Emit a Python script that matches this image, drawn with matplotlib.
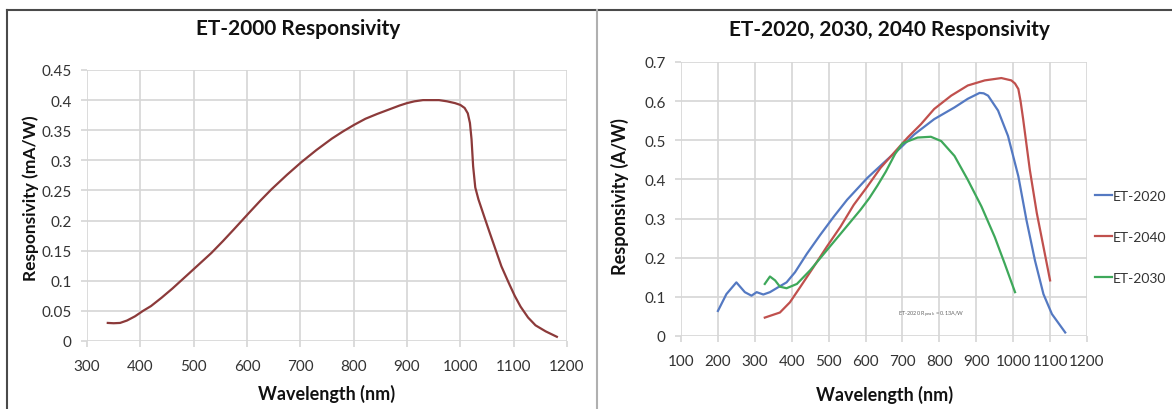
import matplotlib
matplotlib.use("Agg")
import matplotlib.pyplot as plt
from matplotlib.lines import Line2D

plt.rcParams['font.family'] = ['Lato', 'DejaVu Sans']

# ---------------- data ----------------
et2000_wl = [339, 350, 362, 375, 390, 405, 420, 440, 460, 491, 512, 533, 555, 575, 604,
             625, 646, 675, 702, 730, 759, 780, 801, 822, 844, 865, 886, 900, 914, 930,
             945, 960, 975, 990, 1000, 1008, 1014, 1018, 1021, 1024, 1028, 1034, 1045,
             1055, 1066, 1077, 1091, 1102, 1113, 1127, 1141, 1160, 1181]
et2000_resp = [0.030, 0.0295, 0.030, 0.034, 0.041, 0.050, 0.058, 0.072, 0.087, 0.112,
               0.129, 0.146, 0.166, 0.185, 0.213, 0.233, 0.252, 0.276, 0.297, 0.317,
               0.336, 0.348, 0.359, 0.369, 0.377, 0.384, 0.391, 0.395, 0.398, 0.400,
               0.400, 0.400, 0.398, 0.395, 0.392, 0.387, 0.378, 0.362, 0.335, 0.290,
               0.255, 0.235, 0.206, 0.180, 0.152, 0.124, 0.096, 0.075, 0.057, 0.039,
               0.026, 0.016, 0.007]

et2020_wl = [200, 223, 250, 273, 291, 305, 323, 341, 364, 386, 409, 441, 477, 514, 550,
             605, 659, 695, 732, 786, 841, 877, 909, 920, 932, 959, 986, 1014, 1036,
             1059, 1082, 1105, 1141]
et2020_resp = [0.064, 0.107, 0.137, 0.112, 0.103, 0.112, 0.106, 0.112, 0.125, 0.137,
               0.163, 0.210, 0.258, 0.305, 0.348, 0.404, 0.451, 0.481, 0.515, 0.554,
               0.584, 0.606, 0.621, 0.620, 0.614, 0.576, 0.511, 0.408, 0.296, 0.193,
               0.107, 0.056, 0.009]

et2040_wl = [327, 368, 395, 423, 459, 495, 532, 568, 605, 641, 677, 714, 750, 786, 832,
             877, 923, 968, 995, 1005, 1014, 1020, 1027, 1045, 1064, 1082, 1100]
et2040_resp = [0.047, 0.060, 0.086, 0.125, 0.176, 0.228, 0.279, 0.335, 0.382, 0.430,
               0.468, 0.507, 0.541, 0.580, 0.614, 0.640, 0.653, 0.659, 0.653, 0.645,
               0.631, 0.600, 0.554, 0.425, 0.314, 0.228, 0.142]

et2030_wl = [327, 341, 355, 368, 386, 414, 450, 495, 541, 586, 610, 632, 655, 680, 700,
             741, 777, 805, 841, 877, 914, 950, 977, 1005]
et2030_resp = [0.133, 0.152, 0.142, 0.126, 0.122, 0.133, 0.168, 0.219, 0.271, 0.322,
               0.352, 0.384, 0.420, 0.465, 0.492, 0.507, 0.509, 0.498, 0.460, 0.399,
               0.331, 0.253, 0.185, 0.112]

left_xticks = [300, 400, 500, 600, 700, 800, 900, 1000, 1100, 1200]
left_yticks = [0, 0.05, 0.1, 0.15, 0.2, 0.25, 0.3, 0.35, 0.4, 0.45]
left_ylabels = ['0', '0.05', '0.1', '0.15', '0.2', '0.25', '0.3', '0.35', '0.4', '0.45']
right_xticks = [100, 200, 300, 400, 500, 600, 700, 800, 900, 1000, 1100, 1200]
right_yticks = [0, 0.1, 0.2, 0.3, 0.4, 0.5, 0.6, 0.7]
right_ylabels = ['0', '0.1', '0.2', '0.3', '0.4', '0.5', '0.6', '0.7']

# ---------------- figure ----------------
W, H = 1172, 410
fig = plt.figure(figsize=(W / 100, H / 100), dpi=100)
fig.patch.set_facecolor('white')

def px_axes(x0, x1, ytop, ybot):
    return fig.add_axes([x0 / W, 1 - ybot / H, (x1 - x0) / W, (ybot - ytop) / H])

grid_c = '#d6d6d6'
lab_c = '#333333'
title_c = '#111111'

def style(ax):
    for s in ax.spines.values():
        s.set_visible(False)
    ax.grid(True, color=grid_c, linewidth=1.2)
    ax.set_axisbelow(True)
    ax.tick_params(axis='both', color=grid_c, length=4, width=1.2,
                   labelcolor=lab_c, labelsize=11)
    ax.tick_params(axis='x', pad=9)
    ax.tick_params(axis='y', pad=7)

# Left chart
ax1 = px_axes(87, 567, 71, 342)
style(ax1)
ax1.plot(et2000_wl, et2000_resp, color='#8c3a3a', linewidth=1.6)
ax1.set_xlim(300, 1200)
ax1.set_ylim(0, 0.45)
ax1.set_xticks(left_xticks)
ax1.set_yticks(left_yticks)
ax1.set_yticklabels(left_ylabels)
fig.text(298 / W, 1 - 29 / H, 'ET-2000 Responsivity', ha='center', va='center',
         fontsize=15, fontweight='bold', color=title_c)
fig.text(31 / W, 1 - 198 / H, 'Responsivity (mA/W)', ha='center', va='center',
         rotation=90, fontsize=12.5, fontweight='bold', color=title_c)
fig.text(327 / W, 1 - 394 / H, 'Wavelength (nm)', ha='center', va='center',
         fontsize=13, fontweight='bold', color=title_c)

# Right chart
ax2 = px_axes(681, 1087, 63, 337)
style(ax2)
l20, = ax2.plot(et2020_wl, et2020_resp, color='#5479c2', linewidth=1.6, label='ET-2020')
l40, = ax2.plot(et2040_wl, et2040_resp, color='#c0504d', linewidth=1.6, label='ET-2040')
l30, = ax2.plot(et2030_wl, et2030_resp, color='#3ea85a', linewidth=1.6, label='ET-2030')
ax2.set_xlim(100, 1200)
ax2.set_ylim(0, 0.7)
ax2.set_xticks(right_xticks)
ax2.set_yticks(right_yticks)
ax2.set_yticklabels(right_ylabels)
ax2.text(777, 0.056, r'ET-2020 R$_{\rm peak}$ = 0.13A/W', ha='center', va='center',
         fontsize=4, color='#666666')
fig.text(889 / W, 1 - 30 / H, 'ET-2020, 2030, 2040 Responsivity', ha='center',
         va='center', fontsize=15, fontweight='bold', color=title_c)
fig.text(620 / W, 1 - 197 / H, 'Responsivity (A/W)', ha='center', va='center',
         rotation=90, fontsize=13, fontweight='bold', color=title_c)
fig.text(885 / W, 1 - 395 / H, 'Wavelength (nm)', ha='center', va='center',
         fontsize=13, fontweight='bold', color=title_c)

fig.legend(handles=[l20, l40, l30], loc='center left',
           bbox_to_anchor=(1095 / W, 1 - 238 / H), frameon=False, fontsize=10,
           handlelength=1.2, handletextpad=0.1, labelspacing=2.1,
           borderpad=0, borderaxespad=0, labelcolor=lab_c)

# Frame lines
fig.add_artist(Line2D([7 / W, 1], [1 - 11 / H, 1 - 11 / H], color='#4a4a4a',
                      linewidth=1.5, transform=fig.transFigure))
fig.add_artist(Line2D([7 / W, 7 / W], [0, 1 - 11 / H], color='#4a4a4a',
                      linewidth=1.5, transform=fig.transFigure))
fig.add_artist(Line2D([597 / W, 597 / W], [0, 1 - 11 / H], color='#b0b0b0',
                      linewidth=1.5, transform=fig.transFigure))

fig.savefig('out.png', dpi=100, facecolor='white')
